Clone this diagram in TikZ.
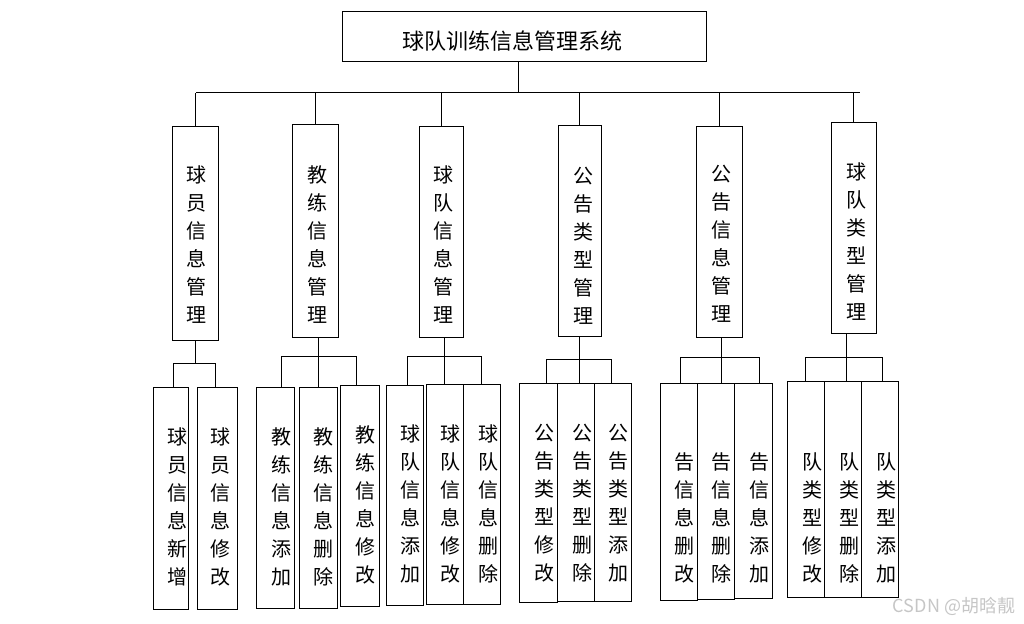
\documentclass[tikz,border=0pt]{standalone}
\usepackage{fontspec}
\newfontfamily\cjk{Noto Sans CJK SC}
\tikzset{
  box/.style={draw, line width=1pt, inner sep=0pt},
  lbl/.style={font=\cjk\fontsize{20}{28}\selectfont, align=center, inner sep=0pt},
}
\begin{document}
\begin{tikzpicture}[x=1pt, y=-1pt, line width=1pt]
        \useasboundingbox (0,0) rectangle (1024,623);
        % top
        \node[box, minimum width=364, minimum height=50] at (524, 37) (top) {};
        \node[lbl, font=\cjk\fontsize{22}{26}\selectfont] at (512, 41.5) (tt) {球队训练信息管理系统};
        \coordinate (bT) at (518, 93);
        \coordinate (bL) at (196, 93);
        \coordinate (bR) at (860, 93);
        \draw (top.south -| bT) -- (bT);
        \draw (bL) -- (bR);
        % second level
        \node[box, minimum width=46, minimum height=214] at (195, 233) (m1) {};
        \node[box, minimum width=46, minimum height=213] at (315, 230.5) (m2) {};
        \node[box, minimum width=44, minimum height=211] at (441, 231.5) (m3) {};
        \node[box, minimum width=43, minimum height=211] at (579.5, 231) (m4) {};
        \node[box, minimum width=46, minimum height=211] at (719, 231.5) (m5) {};
        \node[box, minimum width=45, minimum height=211] at (853.5, 227.5) (m6) {};
        \node[lbl] at (196, 245) (t1) {球\\员\\信\\息\\管\\理};
        \node[lbl] at (317, 245) (t2) {教\\练\\信\\息\\管\\理};
        \node[lbl] at (443, 245) (t3) {球\\队\\信\\息\\管\\理};
        \node[lbl] at (583, 246) (t4) {公\\告\\类\\型\\管\\理};
        \node[lbl] at (721, 244) (t5) {公\\告\\信\\息\\管\\理};
        \node[lbl] at (856, 242) (t6) {球\\队\\类\\型\\管\\理};
        \draw (m1.north) -- (m1.north |- bL);
        \draw (m2.north) -- (m2.north |- bL);
        \draw (m3.north) -- (m3.north |- bL);
        \draw (m4.north) -- (m4.north |- bL);
        \draw (m5.north) -- (m5.north |- bL);
        \draw (m6.north) -- (m6.north |- bL);
        % third level
        \node[box, minimum width=35, minimum height=222] at (170.5, 498) (a1) {};
        \node[box, minimum width=40, minimum height=222] at (217, 498) (a2) {};
        \node[box, minimum width=38, minimum height=221] at (275, 497.5) (b1) {};
        \node[box, minimum width=38, minimum height=221] at (318, 497.5) (b2) {};
        \node[box, minimum width=39, minimum height=221] at (359.5, 495.5) (b3) {};
        \node[box, minimum width=37, minimum height=220] at (404.5, 495) (c1) {};
        \node[box, minimum width=37, minimum height=220] at (444.5, 494) (c2) {};
        \node[box, minimum width=37, minimum height=220] at (481.5, 494) (c3) {};
        \node[box, minimum width=38, minimum height=219] at (538, 492.5) (d1) {};
        \node[box, minimum width=37, minimum height=218] at (575.5, 492) (d2) {};
        \node[box, minimum width=37, minimum height=218] at (612.5, 492) (d3) {};
        \node[box, minimum width=37, minimum height=217] at (678.5, 491.5) (e1) {};
        \node[box, minimum width=37, minimum height=216] at (715.5, 491) (e2) {};
        \node[box, minimum width=38, minimum height=215] at (753, 490.5) (e3) {};
        \node[box, minimum width=37, minimum height=216] at (805.5, 489) (f1) {};
        \node[box, minimum width=37, minimum height=216] at (842.5, 489) (f2) {};
        \node[box, minimum width=37, minimum height=216] at (879.5, 489) (f3) {};
        \node[lbl] at (177, 507) (ta1) {球\\员\\信\\息\\新\\增};
        \node[lbl] at (220, 507) (ta2) {球\\员\\信\\息\\修\\改};
        \node[lbl] at (281, 507) (tb1) {教\\练\\信\\息\\添\\加};
        \node[lbl] at (323, 507) (tb2) {教\\练\\信\\息\\删\\除};
        \node[lbl] at (365, 505) (tb3) {教\\练\\信\\息\\修\\改};
        \node[lbl] at (410, 504) (tc1) {球\\队\\信\\息\\添\\加};
        \node[lbl] at (450, 504) (tc2) {球\\队\\信\\息\\修\\改};
        \node[lbl] at (488, 504) (tc3) {球\\队\\信\\息\\删\\除};
        \node[lbl] at (544, 503) (td1) {公\\告\\类\\型\\修\\改};
        \node[lbl] at (582, 503) (td2) {公\\告\\类\\型\\删\\除};
        \node[lbl] at (618, 503) (td3) {公\\告\\类\\型\\添\\加};
        \node[lbl] at (684, 518) (te1) {告\\信\\息\\删\\改};
        \node[lbl] at (721, 518) (te2) {告\\信\\息\\删\\除};
        \node[lbl] at (759, 518) (te3) {告\\信\\息\\添\\加};
        \node[lbl] at (812, 518) (tf1) {队\\类\\型\\修\\改};
        \node[lbl] at (849, 518) (tf2) {队\\类\\型\\删\\除};
        \node[lbl] at (886, 518) (tf3) {队\\类\\型\\添\\加};
        % branches
        \coordinate (ka) at (173, 363);
        \coordinate (kb) at (215, 363);
        \draw (m1.south) -- (m1.south |- ka);
        \draw (a1.north -| ka) -- (ka) -- (kb) -- (a2.north -| kb);
        \coordinate (kc) at (281, 356);
        \coordinate (kd) at (356, 356);
        \draw (m2.south -| b2) -- (b2.north);
        \draw (b1.north -| kc) -- (kc) -- (kd) -- (b3.north -| kd);
        \coordinate (ke) at (407, 356);
        \coordinate (kf) at (481, 356);
        \draw (m3.south -| 444,0) -- (c2.north -| 444,0);
        \draw (c1.north -| ke) -- (ke) -- (kf) -- (c3.north -| kf);
        \coordinate (kg) at (546, 359);
        \coordinate (kh) at (611, 359);
        \draw (m4.south) -- (m4.south |- d2.north);
        \draw (d1.north -| kg) -- (kg) -- (kh) -- (d3.north -| kh);
        \coordinate (ki) at (680, 357);
        \coordinate (kj) at (759, 357);
        \draw (m5.south -| 721,0) -- (e2.north -| 721,0);
        \draw (e1.north -| ki) -- (ki) -- (kj) -- (e3.north -| kj);
        \coordinate (kk) at (805, 357);
        \coordinate (kl) at (882, 357);
        \draw (m6.south -| 846,0) -- (f2.north -| 846,0);
        \draw (f1.north -| kk) -- (kk) -- (kl) -- (f3.north -| kl);
        % watermark
        \node[font=\cjk\fontsize{18}{20}\selectfont, text=gray!45, inner sep=0pt] at (954, 606) (wm) {CSDN @胡晗靓};
\end{tikzpicture}
\end{document}
